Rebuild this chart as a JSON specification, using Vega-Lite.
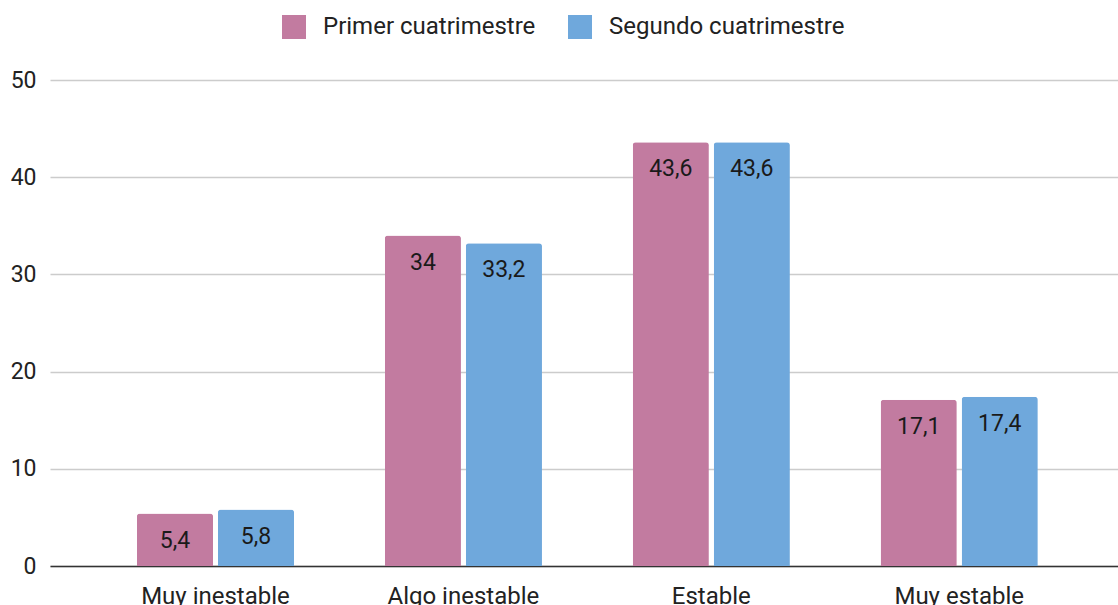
{
  "$schema": "https://vega.github.io/schema/vega-lite/v6.json",
  "width": 1068,
  "height": 486,
  "autosize": {"type": "none"},
  "padding": {"left": 50, "top": 80, "right": 0, "bottom": 39},
  "background": "white",
  "config": {
    "view": {"stroke": null},
    "font": "Roboto",
    "locale": {
      "number": {"decimal": ",", "thousands": ".", "grouping": [3], "currency": ["", " €"]}
    }
  },
  "data": {
    "values": [
      {"nivel": "Muy inestable", "periodo": "Primer cuatrimestre", "valor": 5.4},
      {"nivel": "Muy inestable", "periodo": "Segundo cuatrimestre", "valor": 5.8},
      {"nivel": "Algo inestable", "periodo": "Primer cuatrimestre", "valor": 34},
      {"nivel": "Algo inestable", "periodo": "Segundo cuatrimestre", "valor": 33.2},
      {"nivel": "Estable", "periodo": "Primer cuatrimestre", "valor": 43.6},
      {"nivel": "Estable", "periodo": "Segundo cuatrimestre", "valor": 43.6},
      {"nivel": "Muy estable", "periodo": "Primer cuatrimestre", "valor": 17.1},
      {"nivel": "Muy estable", "periodo": "Segundo cuatrimestre", "valor": 17.4}
    ]
  },
  "encoding": {
    "x": {
      "field": "nivel",
      "type": "nominal",
      "sort": ["Muy inestable", "Algo inestable", "Estable", "Muy estable"],
      "scale": {"paddingInner": 0.366, "paddingOuter": 0.337, "align": 0.52},
      "axis": {
        "title": null,
        "labelAngle": 0,
        "ticks": false,
        "grid": false,
        "domain": true,
        "domainColor": "#333333",
        "domainWidth": 1.5,
        "labelFontSize": 24,
        "labelColor": "#222222",
        "labelPadding": 18
      }
    },
    "xOffset": {
      "field": "periodo",
      "type": "nominal",
      "sort": ["Primer cuatrimestre", "Segundo cuatrimestre"],
      "scale": {"paddingInner": 0.06}
    },
    "y": {
      "field": "valor",
      "type": "quantitative",
      "scale": {"domain": [0, 50], "nice": false},
      "axis": {
        "title": null,
        "values": [0, 10, 20, 30, 40, 50],
        "domain": false,
        "ticks": false,
        "gridColor": "#cccccc",
        "gridWidth": 1.3,
        "labelFontSize": 23,
        "labelColor": "#222222",
        "labelPadding": 14
      }
    }
  },
  "layer": [
    {
      "mark": {"type": "bar", "cornerRadiusTopLeft": 3, "cornerRadiusTopRight": 3},
      "encoding": {
        "color": {
          "field": "periodo",
          "type": "nominal",
          "sort": ["Primer cuatrimestre", "Segundo cuatrimestre"],
          "scale": {"range": ["#c27ba0", "#6fa8dc"]},
          "legend": {
            "title": null,
            "orient": "none",
            "direction": "horizontal",
            "legendX": 232,
            "legendY": -65,
            "symbolType": "square",
            "symbolSize": 576,
            "symbolStrokeWidth": 0,
            "symbolOpacity": 1,
            "labelFontSize": 24,
            "labelLimit": 0,
            "labelColor": "#222222",
            "labelOffset": 17,
            "columnPadding": 32
          }
        }
      }
    },
    {
      "mark": {"type": "text", "baseline": "middle", "dy": 27, "fontSize": 23, "color": "#1a1a1a"},
      "encoding": {
        "text": {"field": "valor", "type": "quantitative", "format": ".1~f"}
      }
    }
  ]
}
